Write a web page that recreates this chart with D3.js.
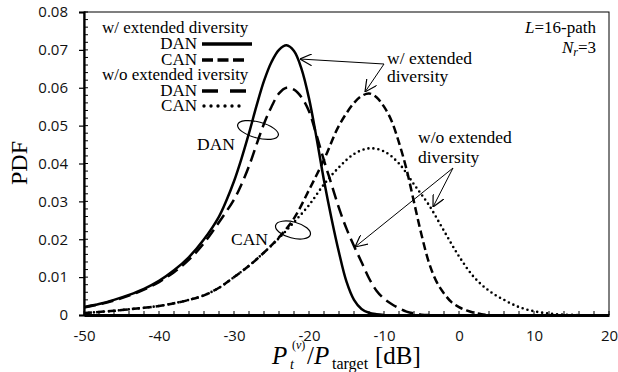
<!DOCTYPE html>
<html><head><meta charset="utf-8">
<script src="https://cdn.jsdelivr.net/npm/d3@7"></script>
<style>body{margin:0;background:#fff}</style>
</head><body>
<svg id="c" width="618" height="372"></svg>
<script>
// ---- data ----
const xTickValues = [-50,-40,-30,-20,-10,0,10,20];
const xTickLabels = ["-50","-40","-30","-20","-10","0","10","20"];
const yTickValues = [0,0.01,0.02,0.03,0.04,0.05,0.06,0.07,0.08];
const yTickLabels = ["0","0.01","0.02","0.03","0.04","0.05","0.06","0.07","0.08"];

const danExtX = [-50,-48,-46,-44,-42,-40,-38,-36,-34,-32,-31,-30,-29,-28,-27,-26,-25,-24,-23,-22,-21,-20,-19,-18,-17,-16,-15,-14,-13,-12,-11,-10];
const danExtY = [0.0021,0.0029,0.0040,0.0053,0.0069,0.0090,0.0118,0.0153,0.0200,0.0260,0.0303,0.0353,0.0413,0.0480,0.0552,0.0618,0.0668,0.0700,0.0712,0.0697,0.0650,0.0572,0.0468,0.0355,0.0255,0.0165,0.0088,0.0040,0.0016,0.0006,0.0002,0];

const canExtX = [-50,-48,-46,-44,-42,-40,-38,-36,-34,-32,-30,-28,-26,-24,-22,-20,-18,-16,-14,-13,-12,-11,-10,-9,-8,-7,-6,-5,-4,-3,-2,-1,0,1,2,3,4];
const canExtY = [0.0005,0.0008,0.0011,0.0015,0.0019,0.0024,0.0031,0.0040,0.0052,0.0072,0.0100,0.0130,0.0165,0.0205,0.0255,0.0330,0.0410,0.0500,0.0560,0.0578,0.0585,0.0575,0.0550,0.0513,0.0455,0.0385,0.0298,0.0212,0.0138,0.0088,0.0057,0.0034,0.0021,0.0012,0.0006,0.0002,0];

const danNoExtX = [-50,-48,-46,-44,-42,-40,-38,-36,-34,-32,-30,-29,-28,-27,-26,-25,-24,-23,-22,-21,-20,-19,-18,-17,-16,-15,-14,-13,-12,-11,-10,-9,-8,-7,-6,-5,-4];
const danNoExtY = [0.0020,0.0028,0.0038,0.0051,0.0067,0.0087,0.0113,0.0146,0.0190,0.0245,0.0305,0.0345,0.0393,0.0450,0.0505,0.0550,0.0585,0.0600,0.0595,0.0575,0.0538,0.0475,0.0408,0.0345,0.0282,0.0228,0.0182,0.0140,0.0097,0.0064,0.0043,0.0029,0.0018,0.0009,0.0004,0.0001,0];

const canNoExtX = [-50,-48,-46,-44,-42,-40,-38,-36,-34,-32,-30,-28,-26,-24,-22,-20,-18,-16,-14,-12,-10,-8,-6,-4,-2,0,2,4,6,8,10,12,14,16];
const canNoExtY = [0.0005,0.0008,0.0011,0.0015,0.0019,0.0024,0.0031,0.0040,0.0052,0.0072,0.0100,0.0130,0.0165,0.0203,0.0245,0.0290,0.0345,0.0390,0.0425,0.0440,0.0432,0.0400,0.0345,0.0290,0.0222,0.0155,0.0100,0.0064,0.0040,0.0021,0.0010,0.0004,0.0001,0];

const series = [
  {name:"CAN w/o", x:canNoExtX, y:canNoExtY, dash:"0,5", legDash:"0,7", width:2.6, cap:"round"},
  {name:"DAN w/o", x:danNoExtX, y:danNoExtY, dash:"12,6", legDash:"16,12", width:2.5, cap:"butt"},
  {name:"CAN w/",  x:canExtX,  y:canExtY,  dash:"8,4", legDash:"11,4.5", width:2.5, cap:"butt"},
  {name:"DAN w/",  x:danExtX,  y:danExtY,  dash:null, legDash:null, width:2.5, cap:"butt"}
];

// ---- layout ----
const L = 84, R = 609, T = 12, B = 315;
const svg = d3.select("#c");
const x = d3.scaleLinear().domain([-50,20]).range([L,R]);
const y = d3.scaleLinear().domain([0,0.08]).range([B,T]);
const serif = "'Liberation Serif','Times New Roman',serif";
const sans = "'Open Sans','Noto Sans',sans-serif";

// frame (top/right thin)
svg.append("rect").attr("x",L).attr("y",T).attr("width",R-L).attr("height",B-T)
  .attr("fill","none").attr("stroke","#000").attr("stroke-width",1);

// y axis
const yMinor = d3.range(0,0.0801,0.002);
svg.append("g").selectAll("line").data(yMinor).join("line")
  .attr("x1",L).attr("x2",L+4).attr("y1",d=>y(d)).attr("y2",d=>y(d))
  .attr("stroke","#000").attr("stroke-width",1);
const yAxis = d3.axisLeft(y).tickValues(yTickValues).tickSize(5)
  .tickFormat((d,i)=>yTickLabels[i]).tickPadding(11);
const gy = svg.append("g").attr("transform",`translate(${L},0)`).call(yAxis);
gy.select(".domain").attr("stroke-width",2.2);
gy.selectAll(".tick line").attr("stroke-width",1.2);
gy.selectAll("text").attr("font-family",sans).attr("font-size",15).attr("fill","#111");

// x axis
const xMinor = d3.range(-50,20.1,2);
svg.append("g").selectAll("line").data(xMinor).join("line")
  .attr("x1",d=>x(d)).attr("x2",d=>x(d)).attr("y1",B).attr("y2",B-4)
  .attr("stroke","#000").attr("stroke-width",1);
const xAxis = d3.axisBottom(x).tickValues(xTickValues).tickSize(0).tickPadding(15)
  .tickFormat((d,i)=>xTickLabels[i]);
const gx = svg.append("g").attr("transform",`translate(0,${B})`).call(xAxis);
gx.select(".domain").attr("stroke-width",2.8);
gx.selectAll("text").attr("font-family",sans).attr("font-size",15).attr("fill","#111");

// curves
const line = d3.line().x(d=>x(d[0])).y(d=>y(d[1])).curve(d3.curveCatmullRom.alpha(0.5));
svg.append("clipPath").attr("id","pc").append("rect")
  .attr("x",L).attr("y",T).attr("width",R-L).attr("height",B-T);
const gc = svg.append("g").attr("clip-path","url(#pc)");
series.forEach(s=>{
  gc.append("path").datum(s.x.map((v,i)=>[v,s.y[i]]))
    .attr("d",line).attr("fill","none").attr("stroke","#000")
    .attr("stroke-width",s.width).attr("stroke-linecap",s.cap)
    .attr("stroke-dasharray",s.dash);
});

// legend (one multi-line text block)
const legRows = [
  {label:"DAN", yy:49, s:series[3], x2:252},
  {label:"CAN", yy:65, s:series[2], x2:246},
  {label:"DAN", yy:96, s:series[1], x2:246},
  {label:"CAN", yy:111, s:series[0], x2:246}
];
const lt = svg.append("text").attr("font-family",serif).attr("font-size",17).attr("fill","#000");
lt.append("tspan").attr("x",102).attr("y",33).text("w/ extended diversity");
lt.append("tspan").attr("x",197).attr("y",legRows[0].yy).attr("text-anchor","end").text(legRows[0].label);
lt.append("tspan").attr("x",197).attr("y",legRows[1].yy).attr("text-anchor","end").text(legRows[1].label);
lt.append("tspan").attr("x",102).attr("y",80).text("w/o extended iversity");
lt.append("tspan").attr("x",197).attr("y",legRows[2].yy).attr("text-anchor","end").text(legRows[2].label);
lt.append("tspan").attr("x",197).attr("y",legRows[3].yy).attr("text-anchor","end").text(legRows[3].label);
legRows.forEach(r=>{
  svg.append("line").attr("x1",r.s.cap==="round"?204:202).attr("x2",r.x2).attr("y1",r.yy-5).attr("y2",r.yy-5)
    .attr("stroke","#000").attr("stroke-width",r.s.width+0.8)
    .attr("stroke-linecap",r.s.cap).attr("stroke-dasharray",r.s.legDash);
});

// top-right note
const note = svg.append("g").attr("font-family",serif).attr("font-size",17).attr("text-anchor","end");
const t1 = note.append("text").attr("x",596).attr("y",33);
t1.append("tspan").attr("font-style","italic").text("L");
t1.append("tspan").text("=16-path");
const t2 = note.append("text").attr("x",596).attr("y",53);
t2.append("tspan").attr("font-style","italic").text("N");
t2.append("tspan").attr("font-style","italic").attr("font-size",12).attr("dy",3).text("r");
t2.append("tspan").attr("dy",-3).text("=3");

// annotations
const defs = svg.append("defs");
defs.append("marker").attr("id","ah").attr("viewBox","0 0 10 10").attr("refX",10).attr("refY",5)
  .attr("markerWidth",12).attr("markerHeight",12).attr("markerUnits","userSpaceOnUse")
  .attr("orient","auto")
  .append("path").attr("d","M0,0 L10,5 L0,10").attr("fill","none").attr("stroke","#000").attr("stroke-width",1);
const ann = svg.append("g").attr("font-family",serif).attr("font-size",17.5);
const a1 = ann.append("text");
a1.append("tspan").attr("x",387).attr("y",64).text("w/ extended");
a1.append("tspan").attr("x",387).attr("y",82).text("diversity");
const a2 = ann.append("text");
a2.append("tspan").attr("x",418).attr("y",143).text("w/o extended");
a2.append("tspan").attr("x",418).attr("y",163).text("diversity");
function arrow(x1,y1,x2,y2){
  svg.append("line").attr("x1",x1).attr("y1",y1).attr("x2",x2).attr("y2",y2)
    .attr("stroke","#000").attr("stroke-width",1).attr("marker-end","url(#ah)");
}
arrow(384,64,300,59);
arrow(384,64,365,92);
arrow(453,168,355,247);
arrow(453,168,433,207);

ann.append("text").attr("x",197).attr("y",150).text("DAN");
ann.append("text").attr("x",231).attr("y",245).text("CAN");
svg.append("ellipse").attr("cx",0).attr("cy",0).attr("rx",21).attr("ry",8)
  .attr("transform","translate(258,130) rotate(15)")
  .attr("fill","none").attr("stroke","#000").attr("stroke-width",1.2);
svg.append("ellipse").attr("cx",0).attr("cy",0).attr("rx",18).attr("ry",8)
  .attr("transform","translate(293,230) rotate(15)")
  .attr("fill","none").attr("stroke","#000").attr("stroke-width",1.2);

// axis titles
svg.append("text").attr("transform","translate(27,163) rotate(-90)")
  .attr("text-anchor","middle").attr("font-family",serif).attr("font-size",24).text("PDF");
const xl = svg.append("text").attr("font-family",serif).attr("font-size",25);
xl.append("tspan").attr("x",272).attr("y",364).attr("font-style","italic").text("P");
xl.append("tspan").attr("x",290).attr("y",369).attr("font-size",14).attr("font-style","italic").text("t");
xl.append("tspan").attr("x",292).attr("y",349).attr("font-size",12).text("(");
xl.append("tspan").attr("font-size",12).attr("font-style","italic").text("v");
xl.append("tspan").attr("font-size",12).text(")");
xl.append("tspan").attr("x",307).attr("y",364).text("/");
xl.append("tspan").attr("font-style","italic").text("P");
xl.append("tspan").attr("x",332).attr("y",369).attr("font-size",16).text("target");
xl.append("tspan").attr("x",375).attr("y",364).text("[dB]");
</script>
</body></html>
